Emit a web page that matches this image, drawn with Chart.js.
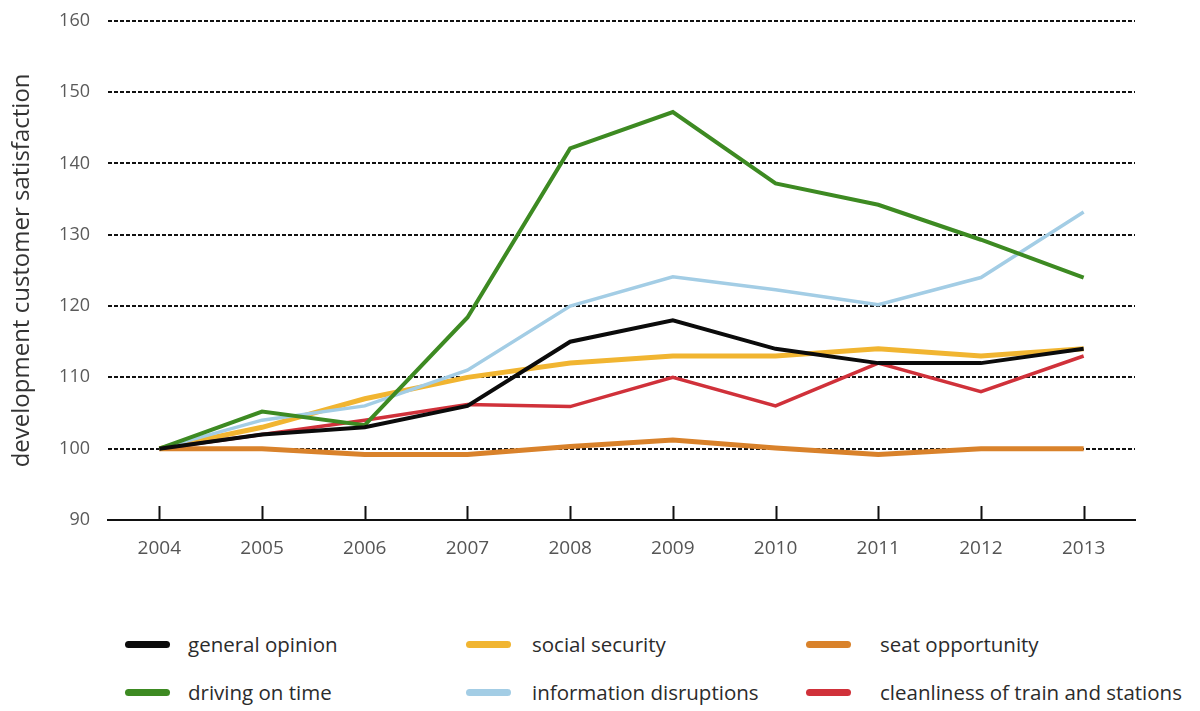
<!DOCTYPE html>
<html>
<head>
<meta charset="utf-8">
<script src="https://cdn.jsdelivr.net/npm/chart.js@4/dist/chart.umd.min.js"></script>
<style>
  html, body { margin: 0; padding: 0; background: #fff; }
  #wrap { position: relative; width: 1200px; height: 711px; overflow: hidden; }
  #chart-box { position: absolute; left: 0; top: -8px; width: 1200px; height: 598px; }
  #legend { position: absolute; left: 0; top: 620px; width: 1200px; height: 91px; }
  .swatch { position: absolute; width: 45px; height: 7px; border-radius: 4px; }
  .label { position: absolute; font-family: "Open Sans", sans-serif; font-size: 20.5px; line-height: 28px; color: #2b2b2b; white-space: nowrap; }
</style>
</head>
<body>
<div id="wrap">
  <div id="chart-box"><canvas id="c"></canvas></div>
  <div id="legend"></div>
</div>
<script>
// Years on the horizontal axis
const years = ['2004','2005','2006','2007','2008','2009','2010','2011','2012','2013'];
// Y axis tick values
const yTicks = [90, 100, 110, 120, 130, 140, 150, 160];

// Index values per theme (2004 = 100)
const generalOpinion   = [100, 102, 103, 106, 115, 118, 114, 112, 112, 114];
const socialSecurity   = [100, 103, 107, 110, 112, 113, 113, 114, 113, 114];
const seatOpportunity  = [100, 100, 99.2, 99.2, 100.3, 101.2, 100.1, 99.2, 100, 100];
const drivingOnTime    = [100, 105.2, 103.3, 118.4, 142.1, 147.2, 137.2, 134.2, 129.3, 124];
const infoDisruptions  = [100, 104, 106, 111, 120, 124.1, 122.3, 120.2, 124, 133.2];
const cleanliness      = [100, 102, 104, 106.2, 105.9, 110, 106, 112, 108, 113];

const seriesNames = ['general opinion', 'social security', 'seat opportunity',
                     'driving on time', 'information disruptions', 'cleanliness of train and stations'];

const seriesDefs = [
  { label: seriesNames[0], data: generalOpinion,  color: '#0b0b0b', width: 4,   order: 0 },
  { label: seriesNames[1], data: socialSecurity,  color: '#f1b531', width: 5,   order: 4 },
  { label: seriesNames[2], data: seatOpportunity, color: '#d9822b', width: 5,   order: 5 },
  { label: seriesNames[3], data: drivingOnTime,   color: '#3d8a22', width: 4,   order: 1 },
  { label: seriesNames[4], data: infoDisruptions, color: '#a3cde5', width: 3.5, order: 2 },
  { label: seriesNames[5], data: cleanliness,     color: '#d0313a', width: 3.5, order: 3 }
];

// Short upward tick marks on the x axis
const upTicks = {
  id: 'upTicks',
  afterDatasetsDraw(chart) {
    const x = chart.scales.x, ctx = chart.ctx;
    const base = chart.chartArea.bottom;
    ctx.save();
    ctx.strokeStyle = '#111';
    ctx.lineWidth = 2;
    x.ticks.forEach((t, i) => {
      const px = Math.round(x.getPixelForTick(i)) + 0.5;
      ctx.beginPath();
      ctx.moveTo(px, base);
      ctx.lineTo(px, base - 14);
      ctx.stroke();
    });
    ctx.restore();
  }
};

new Chart(document.getElementById('c'), {
  type: 'line',
  data: {
    labels: years,
    datasets: seriesDefs.map(s => ({
      label: s.label,
      data: s.data,
      borderColor: s.color,
      backgroundColor: s.color,
      borderWidth: s.width,
      pointRadius: 0,
      tension: 0,
      order: s.order,
      fill: false
    }))
  },
  options: {
    responsive: true,
    maintainAspectRatio: false,
    animation: false,
    layout: { padding: { top: 11, right: 65, bottom: 0, left: 0 } },
    plugins: { legend: { display: false }, tooltip: { enabled: false } },
    scales: {
      x: {
        offset: true,
        grid: { display: false, drawTicks: false },
        border: { display: true, color: '#111', width: 2 },
        ticks: { color: '#555', padding: 17, font: { family: 'Open Sans', size: 19 } },
        afterFit(scale) { scale.height = 70; }
      },
      y: {
        min: 90,
        max: 160,
        afterBuildTicks(scale) { scale.ticks = yTicks.map(v => ({ value: v })); },
        grid: {
          drawTicks: false,
          color: ctx => ctx.tick && ctx.tick.value === 90 ? 'rgba(0,0,0,0)' : '#111',
          lineWidth: 2
        },
        border: { display: false, dash: [4, 2] },
        ticks: { color: '#5a5a5a', padding: 18, font: { family: 'Open Sans', size: 18 } },
        title: {
          display: true,
          text: 'development customer satisfaction',
          color: '#333',
          font: { family: 'Open Sans', size: 24 },
          padding: { top: 8, bottom: 0 }
        },
        afterFit(scale) { scale.width = 108; }
      }
    }
  },
  plugins: [upTicks]
});

// Legend: three columns, two rows
const legend = document.getElementById('legend');
const swatchX = [125, 466, 806];
const textX = [188, 532, 880];
const rowY = [25, 73];
seriesDefs.forEach((s, i) => {
  const col = i % 3, row = Math.floor(i / 3);
  const sw = document.createElement('div');
  sw.className = 'swatch';
  sw.style.background = s.color;
  sw.style.left = swatchX[col] + 'px';
  sw.style.top = (rowY[row] - 4) + 'px';
  const tx = document.createElement('div');
  tx.className = 'label';
  tx.textContent = s.label;
  tx.style.left = textX[col] + 'px';
  tx.style.top = (rowY[row] - 15) + 'px';
  legend.appendChild(sw);
  legend.appendChild(tx);
});
</script>
</body>
</html>
